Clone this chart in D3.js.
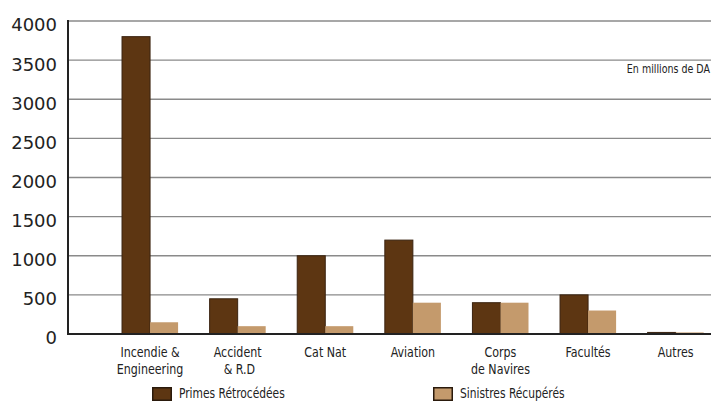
<!DOCTYPE html>
<html><head><meta charset="utf-8">
<script src="https://cdn.jsdelivr.net/npm/d3@7"></script>
<style>
body{margin:0;background:#fff;}
svg{display:block;}
</style></head>
<body>
<svg id="c" width="711" height="401"></svg>
<script>
const categories = [["Incendie &","Engineering"],["Accident"," & R.D"],["Cat Nat"],["Aviation"],["Corps","de Navires"],["Facultés"],["Autres"]];
const primes = [3800, 450, 1000, 1200, 400, 500, 20];
const sinistres = [150, 100, 100, 400, 400, 300, 20];
const yTicks = [0, 500, 1000, 1500, 2000, 2500, 3000, 3500, 4000];
const seriesNames = ["Primes Rétrocédées", "Sinistres Récupérés"];
const colors = ["#5d3612", "#c49a6c"];
const unitLabel = "En millions de DA";

const svg = d3.select("#c");
const mLeft = 68, mRight = 711, mTop = 21, mBottom = 334;
const narrow = "'DejaVu Sans Condensed','DejaVu Sans',sans-serif";
const squeeze = 0.88;

const y = d3.scaleLinear().domain([0, 4000]).range([mBottom, mTop]);
const x0 = d3.scaleBand().domain(d3.range(categories.length)).range([mLeft, mRight])
  .paddingInner(0.36).paddingOuter(0.35).align(0.881);
const x1 = d3.scaleBand().domain([0, 1]).range([0, x0.bandwidth()]);

function narrowText(sel, x, yy, anchor, size) {
  const g = sel.append("g").attr("transform", `translate(${x},${yy}) scale(${squeeze},1)`);
  return g.append("text").attr("x", 0).attr("y", 0).attr("text-anchor", anchor)
    .attr("font-family", narrow).attr("font-size", size).attr("fill", "#222")
    .attr("xml:space", "preserve").style("white-space", "pre");
}

// gridlines
svg.append("g").selectAll("line").data(yTicks.filter(d => d > 0)).join("line")
  .attr("x1", mLeft).attr("x2", mRight)
  .attr("y1", d => y(d)).attr("y2", d => y(d))
  .attr("stroke", "#8a8a8a").attr("stroke-width", 1.3);

// y axis labels
const yAxis = d3.axisLeft(y).tickValues(yTicks).tickFormat(d3.format("d")).tickSize(0).tickPadding(11);
const ga = svg.append("g").attr("transform", `translate(${mLeft},0)`).call(yAxis);
ga.select(".domain").remove();
ga.selectAll("text").attr("font-family", "'DejaVu Sans',sans-serif").attr("font-size", 18)
  .attr("fill", "#222").attr("dy", "0.55em");

// bars
const groups = svg.append("g").selectAll("g").data(categories).join("g")
  .attr("transform", (d, i) => `translate(${x0(i)},0)`);
groups.append("rect")
  .attr("x", x1(0)).attr("width", x1.bandwidth())
  .attr("y", (d, i) => y(primes[i])).attr("height", (d, i) => y(0) - y(primes[i]))
  .attr("fill", colors[0]).attr("stroke", "#3a2310").attr("stroke-width", 1);
groups.append("rect")
  .attr("x", x1(1)).attr("width", x1.bandwidth())
  .attr("y", (d, i) => y(sinistres[i])).attr("height", (d, i) => y(0) - y(sinistres[i]))
  .attr("fill", colors[1]);

// axes lines
svg.append("line").attr("x1", mLeft).attr("x2", mLeft).attr("y1", mTop - 1).attr("y2", mBottom + 1)
  .attr("stroke", "#222").attr("stroke-width", 2);
svg.append("line").attr("x1", mLeft).attr("x2", mRight).attr("y1", y(0)).attr("y2", y(0))
  .attr("stroke", "#222").attr("stroke-width", 2);

// category labels
groups.each(function(d) {
  const sel = d3.select(this);
  d.forEach((line, k) => narrowText(sel, x0.bandwidth() / 2, 357 + k * 17, "middle", 14).text(line));
});

// unit label
narrowText(svg, 710, 73, "end", 12).text(unitLabel);

// legend
const legX = [152, 433];
const leg = svg.append("g").selectAll("g").data(seriesNames).join("g")
  .attr("transform", (d, i) => `translate(${legX[i]},387)`);
leg.append("rect").attr("x", 0.75).attr("y", 0.75).attr("width", 18.5).attr("height", 12.5)
  .attr("fill", (d, i) => colors[i]).attr("stroke", "#2a1a0c").attr("stroke-width", 1.5);
leg.each(function(d) { narrowText(d3.select(this), 27, 11, "start", 13.5).text(d); });
</script>
</body></html>
